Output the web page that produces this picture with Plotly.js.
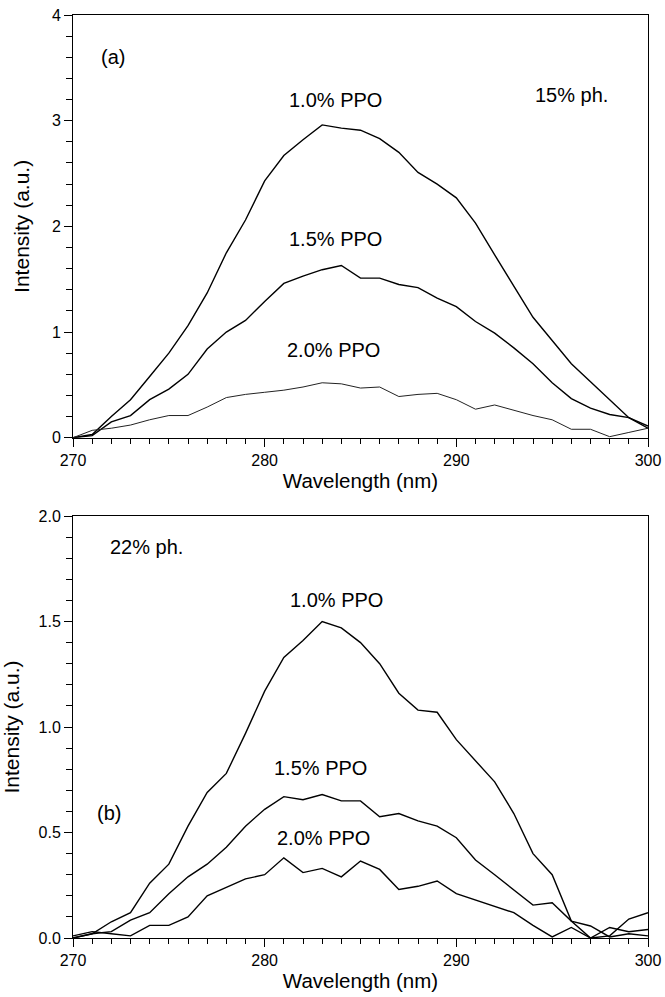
<!DOCTYPE html>
<html>
<head>
<meta charset="utf-8">
<script src="https://cdn.plot.ly/plotly-3.0.1.min.js"></script>
<style>html,body{margin:0;padding:0;background:#fff;}#chart{width:665px;height:997px;}</style>
</head>
<body>
<div id="chart"></div>
<script>
// Wavelength (nm)
const wavelength = [270,271,272,273,274,275,276,277,278,279,280,281,282,283,284,285,286,287,288,289,290,291,292,293,294,295,296,297,298,299,300];

// (a) 15% ph.
const a_ppo10 = [0,0.03,0.20,0.36,0.58,0.80,1.06,1.37,1.75,2.06,2.43,2.67,2.82,2.96,2.93,2.91,2.83,2.70,2.51,2.40,2.27,2.03,1.73,1.43,1.14,0.92,0.70,0.53,0.36,0.19,0.09];
const a_ppo15 = [0,0.02,0.15,0.21,0.36,0.46,0.60,0.84,1.00,1.11,1.29,1.46,1.53,1.59,1.63,1.51,1.51,1.45,1.42,1.32,1.24,1.10,0.99,0.85,0.70,0.52,0.37,0.28,0.22,0.19,0.11];
const a_ppo20 = [0,0.07,0.09,0.12,0.17,0.21,0.21,0.29,0.38,0.41,0.43,0.45,0.48,0.52,0.51,0.47,0.48,0.39,0.41,0.42,0.36,0.27,0.31,0.26,0.21,0.17,0.08,0.08,0.01,0.05,0.09];

// (b) 22% ph.
const b_ppo10 = [0,0.02,0.077,0.12,0.26,0.35,0.53,0.69,0.78,0.97,1.17,1.33,1.41,1.50,1.47,1.40,1.30,1.16,1.08,1.07,0.94,0.84,0.74,0.59,0.40,0.30,0.08,0.0,0.05,0.03,0.04];
const b_ppo15 = [0,0.02,0.03,0.085,0.12,0.21,0.29,0.35,0.43,0.53,0.61,0.67,0.655,0.68,0.65,0.65,0.575,0.59,0.555,0.53,0.475,0.37,0.30,0.23,0.156,0.167,0.08,0.057,0.005,0.02,0.01];
const b_ppo20 = [0.01,0.03,0.02,0.01,0.06,0.06,0.10,0.20,0.24,0.28,0.30,0.38,0.31,0.33,0.29,0.365,0.325,0.23,0.245,0.27,0.21,0.18,0.15,0.12,0.06,0.005,0.05,0.0,0.01,0.09,0.12];

// Text labels
const aLabels = ["(a)","1.0% PPO","15% ph.","1.5% PPO","2.0% PPO"];
const bLabels = ["22% ph.","1.0% PPO","1.5% PPO","2.0% PPO","(b)"];

const FONT = "Arial, 'Liberation Sans', sans-serif";
const thick = {color:'#000', width:1.4};
const thin = {color:'#222', width:1};

const traces = [
  {x:wavelength, y:a_ppo10, type:'scatter', mode:'lines', line:thick, xaxis:'x', yaxis:'y', name:'1.0% PPO'},
  {x:wavelength, y:a_ppo15, type:'scatter', mode:'lines', line:thick, xaxis:'x', yaxis:'y', name:'1.5% PPO'},
  {x:wavelength, y:a_ppo20, type:'scatter', mode:'lines', line:thin, xaxis:'x', yaxis:'y', name:'2.0% PPO'},
  {x:wavelength, y:b_ppo10, type:'scatter', mode:'lines', line:thick, xaxis:'x2', yaxis:'y2', name:'1.0% PPO'},
  {x:wavelength, y:b_ppo15, type:'scatter', mode:'lines', line:thick, xaxis:'x2', yaxis:'y2', name:'1.5% PPO'},
  {x:wavelength, y:b_ppo20, type:'scatter', mode:'lines', line:thick, xaxis:'x2', yaxis:'y2', name:'2.0% PPO'}
];

function xax(anchor){
  return {
    anchor:anchor, range:[270,300], tickvals:[270,280,290,300],
    ticks:'outside', ticklen:8, tickwidth:1, tickcolor:'#000',
    minor:{dtick:1, ticks:'outside', ticklen:5, tickwidth:1, tickcolor:'#000', showgrid:false},
    showline:true, mirror:true, linecolor:'#000', linewidth:1,
    showgrid:false, zeroline:false,
    tickfont:{family:FONT, size:16, color:'#000'},
    title:{text:'Wavelength (nm)', font:{family:FONT, size:20.5, color:'#000'}, standoff:5}
  };
}
function yax(anchor, domain, range, dtick, mdtick, fmt){
  return {
    anchor:anchor, domain:domain, range:range, dtick:dtick, tick0:0, tickformat:fmt,
    ticks:'outside', ticklen:8, tickwidth:1, tickcolor:'#000',
    minor:{dtick:mdtick, ticks:'outside', ticklen:6, tickwidth:1, tickcolor:'#000', showgrid:false},
    showline:true, mirror:true, linecolor:'#000', linewidth:1,
    showgrid:false, zeroline:false,
    tickfont:{family:FONT, size:16, color:'#000'},
    title:{text:'Intensity (a.u.)', font:{family:FONT, size:21, color:'#000'}, standoff:16}
  };
}

function ann(text, x, y, xr, yr){
  return {text:text, x:x, y:y, xref:xr, yref:yr, showarrow:false, xanchor:'center', yanchor:'middle',
          font:{family:FONT, size:20, color:'#000'}};
}
const aPos = [[272.1,3.60],[283.68,3.195],[296.0,3.24],[283.7,1.88],[283.6,0.83]];
const bPos = [[273.85,1.853],[283.73,1.602],[282.9,0.806],[283.05,0.474],[271.9,0.592]];
const annotations = [];
aLabels.forEach((t,i)=>annotations.push(ann(t,aPos[i][0],aPos[i][1],'x','y')));
bLabels.forEach((t,i)=>annotations.push(ann(t,bPos[i][0],bPos[i][1],'x2','y2')));

const layout = {
  width:665, height:997,
  margin:{l:73, r:17, t:15, b:59},
  paper_bgcolor:'#fff', plot_bgcolor:'#fff',
  showlegend:false,
  font:{family:FONT, color:'#000'},
  xaxis:xax('y'),
  yaxis:yax('x',[0.542,1],[0,4],1,0.2,''),
  xaxis2:xax('y2'),
  yaxis2:yax('x2',[0,0.4572],[0,2],0.5,0.1,'.1f'),
  annotations:annotations
};

Plotly.newPlot('chart', traces, layout, {displayModeBar:false, staticPlot:true});
</script>
</body>
</html>
